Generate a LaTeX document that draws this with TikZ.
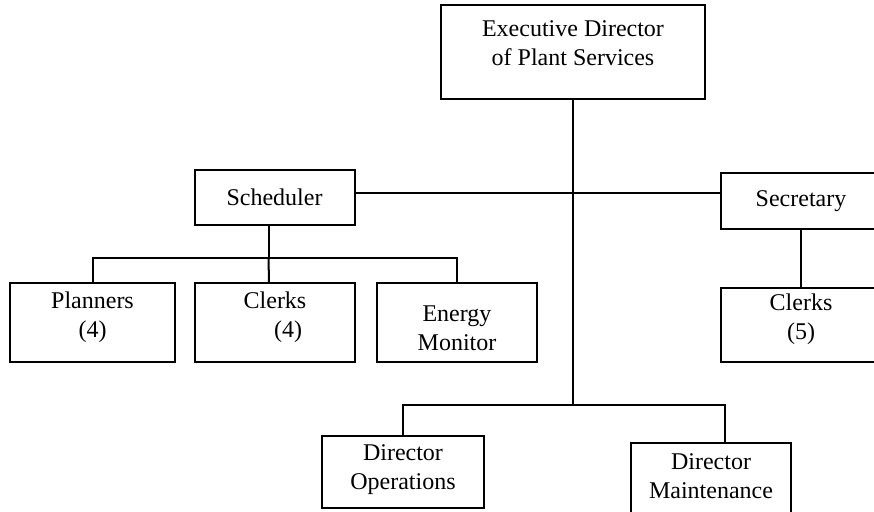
\documentclass[tikz,border=0pt]{standalone}
\usepackage{fontspec}
\setmainfont{Liberation Serif}

\begin{document}
\begin{tikzpicture}[
		x=0.5pt,
		y=-0.5pt,
		every node/.style={
			font=\fontsize{12}{14.5}\selectfont,
		},
		unit/.style={
			draw,
			line width=1pt,
			align=center,
			inner sep=0pt,
			minimum width=80pt,
			minimum height=#1,
		},
		lift/.style={
			text depth=#1,
		},
		link/.style={
			line width=1pt,
		},
	]
		\useasboundingbox (0,0) rectangle (874,512);
		\node[unit=47pt, minimum width=132pt, lift=8.7pt] (exec) at (573,52) {Executive Director\\of Plant Services};
		\node[unit=27.5pt] (sched) at (274.5,197.5) {Scheduler};
		\node[unit=28pt] (sec) at (801,201) {Secretary};
		\node[unit=39.5pt, minimum width=82.5pt, lift=7.6pt] (plan) at (92.5,322.5) {Planners\\(4)};
		\node[unit=39.5pt, lift=7.6pt] (clerksa) at (275,322.5) {Clerks\\\hspace*{1.1em}(4)};
		\node[unit=39.5pt, text height=27.9pt] (energy) at (457,322.5) {Energy\\Monitor};
		\node[unit=37pt, lift=8.1pt] (clerksb) at (801,325) {Clerks\\(5)};
		\node[unit=36pt, minimum width=81pt, lift=4.6pt] (dirops) at (403,472) {Director\\Operations};
		\node[unit=37pt, lift=4.2pt] (dirmaint) at (711,480) {Director\\Maintenance};

		\coordinate (hub) at (exec.south |- 0,405);
		\coordinate (tap) at ([yshift=2pt]sched.east);
		\coordinate (fork) at ([xshift=-3pt]sched.south |- 0,258);

		\draw[link] (exec.south) -- (hub);
		\draw[link] (tap) -- (tap -| sec.west);
		\draw[link] (hub) -| (dirops.north);
		\draw[link] (hub) -| ([xshift=7pt]dirmaint.north);
		\draw[link] ([xshift=-3pt]sched.south) -- (fork);
		\draw[link] (fork) -| (plan.north);
		\draw[link] (fork) -- ([xshift=-3pt]clerksa.north);
		\draw[link] (fork) -| (energy.north);
		\draw[link] (sec.south) -- (clerksb.north);
	\end{tikzpicture}
\end{document}
